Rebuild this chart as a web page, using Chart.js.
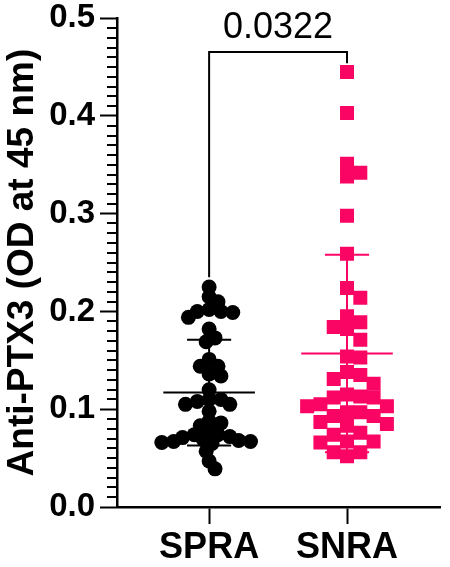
<!DOCTYPE html>
<html lang="en">
<head>
<meta charset="UTF-8">
<title>Anti-PTX3</title>
<script src="https://cdn.jsdelivr.net/npm/chart.js"></script>
<style>
html, body { margin: 0; padding: 0; background: #fff; }
canvas { display: block; }
</style>
</head>
<body>
<canvas id="chart1" width="450" height="567"></canvas>
<script>
// values
const groups = ["SPRA", "SNRA"];
const spraValues = [
  0.225, 0.215, 0.210, 0.202, 0.200, 0.199, 0.194, 0.200, 0.182, 0.173, 0.169,
  0.151, 0.144, 0.144, 0.136, 0.134, 0.120,
  0.110, 0.108, 0.110, 0.105, 0.105, 0.098,
  0.088, 0.086, 0.083, 0.078, 0.074, 0.074, 0.072, 0.068, 0.067, 0.069, 0.071, 0.066, 0.065, 0.067,
  0.057, 0.047, 0.039
];
const snraValues = [
  0.445, 0.403, 0.351, 0.338, 0.342, 0.298, 0.259,
  0.224, 0.214, 0.195, 0.184, 0.189, 0.182, 0.171,
  0.153, 0.154, 0.138, 0.135, 0.131, 0.126,
  0.112, 0.112, 0.113, 0.115, 0.105, 0.103, 0.103,
  0.097, 0.097, 0.093, 0.093, 0.085, 0.087, 0.083,
  0.074, 0.076, 0.066, 0.067, 0.067, 0.056, 0.056, 0.052
];
const groupMeans = [0.117, 0.157];
const groupSDs = [0.054, 0.101];
const pLabel = "0.0322";
const yMin = 0, yMax = 0.5;
const minorStep = 0.01;

const PINK = "#FA0564";
const colors = ["#000000", PINK];
const FONT = "'Liberation Sans', Arial, sans-serif";

// spread points sideways so they don't sit on top of each other
function swarm(values, center, step, minDist, square) {
  const pxX = 140, pxY = 984;
  const placed = [];
  const out = new Array(values.length);
  const order = values.map((v, i) => i).sort((a, b) => values[b] - values[a]);
  order.forEach(i => {
    const py = values[i] * pxY;
    let off = 0;
    for (let k = 0; k < 60; k++) {
      const cand = (k % 2 ? 1 : -1) * Math.ceil(k / 2) * step;
      const hit = placed.some(p => {
        const dx = Math.abs(p.x - cand), dy = Math.abs(p.y - py);
        return square ? (dx < minDist && dy < minDist) : Math.hypot(dx, dy) < minDist;
      });
      if (!hit) { off = cand; break; }
    }
    placed.push({ x: off, y: py });
    out[i] = { x: center + off / pxX, y: values[i] };
  });
  return out;
}

const overlay = {
  id: "overlay",
  afterDatasetsDraw(chart) {
    const ctx = chart.ctx, x = chart.scales.x, y = chart.scales.y;
    ctx.save();
    ctx.lineWidth = 2;
    groups.forEach((g, i) => {
      const c = i + 1, m = groupMeans[i], s = groupSDs[i];
      ctx.strokeStyle = colors[i];
      ctx.beginPath();
      ctx.moveTo(x.getPixelForValue(c - 0.332), y.getPixelForValue(m));
      ctx.lineTo(x.getPixelForValue(c + 0.332), y.getPixelForValue(m));
      [m - s, m + s].forEach(v => {
        ctx.moveTo(x.getPixelForValue(c - 0.16), y.getPixelForValue(v));
        ctx.lineTo(x.getPixelForValue(c + 0.16), y.getPixelForValue(v));
      });
      ctx.moveTo(x.getPixelForValue(c), y.getPixelForValue(m - s));
      ctx.lineTo(x.getPixelForValue(c), y.getPixelForValue(m + s));
      ctx.stroke();
    });
    ctx.restore();
  },
  afterDraw(chart) {
    const ctx = chart.ctx, x = chart.scales.x, y = chart.scales.y;
    const axisX = Math.round(x.left);
    ctx.save();
    // minor ticks on the y axis
    ctx.fillStyle = "#000";
    const n = Math.round((yMax - yMin) / minorStep);
    for (let k = 1; k < n; k++) {
      if (k % 10 === 0) continue;
      const py = Math.round(y.getPixelForValue(yMin + k * minorStep));
      ctx.fillRect(axisX - 10, py - 1, 11, 2);
    }
    // significance bracket
    ctx.strokeStyle = "#000";
    ctx.lineWidth = 2;
    const x1 = x.getPixelForValue(1), x2 = x.getPixelForValue(2);
    const top = y.getPixelForValue(0.4654);
    ctx.beginPath();
    ctx.moveTo(x1, y.getPixelForValue(0.235));
    ctx.lineTo(x1, top);
    ctx.lineTo(x2, top);
    ctx.lineTo(x2, y.getPixelForValue(0.454));
    ctx.stroke();
    ctx.font = "36px " + FONT;
    ctx.textAlign = "center";
    ctx.textBaseline = "alphabetic";
    ctx.fillText(pLabel, (x1 + x2) / 2, top - 14);
    ctx.restore();
  }
};

new Chart(document.getElementById("chart1"), {
  type: "scatter",
  data: {
    datasets: [
      {
        label: groups[0],
        data: swarm(spraValues, 1, 3, 9.5, false),
        backgroundColor: colors[0],
        borderColor: colors[0],
        pointStyle: "circle",
        pointRadius: 7.5,
        borderWidth: 0
      },
      {
        label: groups[1],
        data: swarm(snraValues, 2, 13.5, 12.5, true),
        backgroundColor: PINK,
        borderColor: PINK,
        pointStyle: "rect",
        pointRadius: 9.9,
        borderWidth: 0
      }
    ]
  },
  options: {
    responsive: false,
    animation: false,
    layout: { padding: { left: 0, right: 5, top: 15, bottom: 0 } },
    plugins: { legend: { display: false }, tooltip: { enabled: false } },
    scales: {
      x: {
        type: "linear",
        min: 0.332,
        max: 2.675,
        afterBuildTicks: s => { s.ticks = groups.map((g, i) => ({ value: i + 1 })); },
        afterFit: s => { s.height = 60; },
        grid: { drawOnChartArea: false, tickLength: 17, tickWidth: 2, tickColor: "#000" },
        border: { color: "#000", width: 2.5 },
        ticks: {
          callback: v => groups[v - 1],
          color: "#000",
          padding: 2,
          maxRotation: 0,
          font: { family: FONT, size: 36, weight: "bold" }
        }
      },
      y: {
        min: yMin,
        max: yMax,
        afterFit: s => { s.width = 117; },
        grid: { drawOnChartArea: false, tickLength: 17, tickWidth: 2, tickColor: "#000" },
        border: { color: "#000", width: 2.5 },
        ticks: {
          stepSize: 0.1,
          callback: v => v.toFixed(1),
          color: "#000",
          padding: 5,
          font: { family: FONT, size: 33, weight: "bold", lineHeight: 0.8 }
        },
        title: {
          display: true,
          text: "Anti-PTX3 (OD at 45 nm)",
          color: "#000",
          padding: { top: 1, bottom: 0 },
          font: { family: FONT, size: 37, weight: "bold", lineHeight: 1.2 }
        }
      }
    }
  },
  plugins: [overlay]
});
</script>
</body>
</html>
